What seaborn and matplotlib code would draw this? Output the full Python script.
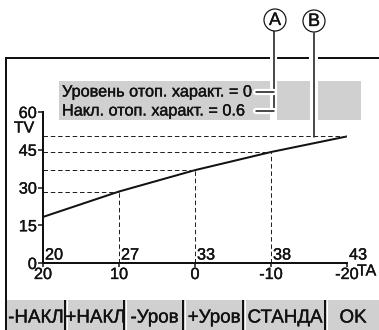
import matplotlib
matplotlib.use("Agg")
import matplotlib.pyplot as plt
import matplotlib.patheffects as pe
from matplotlib.patches import Circle, Rectangle
import numpy as np
import pandas as pd
import seaborn as sns

# Heating curve: outside temperature TA vs. flow temperature TV
ta_values = [20, 10, 0, -10, -20]
tv_values = [18.3, 28.4, 36.9, 44.1, 50.3]
point_labels = ["20", "27", "33", "38", "43"]

x_ticks = [20, 10, 0, -10, -20]
x_tick_labels = ["20", "10", "0", "-10", "-20"]
y_ticks = [0, 15, 30, 45, 60]
y_tick_labels = ["0", "15", "30", "45", "60"]

info_lines = ["Уровень отоп. характ. = 0", "Накл. отоп. характ. = 0.6"]
button_labels = ["-НАКЛ", "+НАКЛ", "-Уров", "+Уров", "СТАНДА", "OK"]

sns.set_theme(style="white")
plt.rcParams["font.family"] = ["Liberation Sans", "DejaVu Sans"]

W, H = 379, 330
fig = plt.figure(figsize=(W / 100, H / 100), dpi=100)
fig.patch.set_facecolor("white")

ink = "#111111"
gray = "#d0d0d0"
px = 0.72  # points per pixel
# slightly heavier glyphs, like a display font
heavy = [pe.withStroke(linewidth=0.25, foreground=ink)]

# Pixel-space layer for the display frame, info box, callouts and soft keys
bg = fig.add_axes([0, 0, 1, 1])
bg.set_xlim(0, W)
bg.set_ylim(H, 0)
bg.axis("off")

# Info box (split where the callout lines pass)
for x0, x1 in [(59, 270), (277, 310), (318, 361)]:
    bg.add_patch(Rectangle((x0, 81), x1 - x0, 39, facecolor=gray, edgecolor="none", zorder=1))
for i, line in enumerate(info_lines):
    bg.text(62, 92 + i * 19, line, fontsize=11.7, color=ink, ha="left", va="center",
            zorder=3, path_effects=heavy)

# Display frame
for x0, x1 in [(5, 270), (277, 309), (318, 379)]:
    bg.plot([x0, x1], [58, 58], color=ink, lw=2 * px, solid_capstyle="butt", zorder=2)
bg.plot([5.5, 5.5], [57, 330], color=ink, lw=2 * px, solid_capstyle="butt", zorder=2)

# Callouts A and B
halo = [pe.Stroke(linewidth=4.5, foreground="white"), pe.Normal()]
bg.plot([274, 274], [31, 111], color=ink, lw=1.5 * px, zorder=4, path_effects=halo)
bg.plot([256, 274], [92, 92], color=ink, lw=1.5 * px, zorder=4, path_effects=halo)
bg.plot([256, 274], [111, 111], color=ink, lw=1.5 * px, zorder=4, path_effects=halo)
bg.plot([314, 314], [33, 137], color=ink, lw=1.5 * px, zorder=4, path_effects=halo)
for cx, cy, letter in [(275, 20, "A"), (314, 21, "B")]:
    bg.add_patch(Circle((cx, cy), 11, facecolor="white", edgecolor=ink, lw=1.2 * px, zorder=5))
    bg.text(cx, cy + 0.5, letter, fontsize=13, color=ink, ha="center", va="center",
            zorder=6, path_effects=heavy)

# Soft key bar
bg.add_patch(Rectangle((5, 300), W - 5, 30, facecolor=gray, edgecolor="none", zorder=1))
edges = [5, 65, 124, 183, 243, 325, 379]
for xs in edges[1:-1]:
    bg.plot([xs, xs], [300, 330], color=ink, lw=2 * px, solid_capstyle="butt", zorder=2)
    bg.plot([xs + 2, xs + 2], [300, 330], color="white", lw=1 * px, solid_capstyle="butt", zorder=2)
for (a, b), lab in zip(zip(edges[:-1], edges[1:]), button_labels):
    bg.text((a + b) / 2 + 1, 318, lab, fontsize=13.5, color=ink, ha="center", va="center",
            zorder=3, path_effects=heavy)

# Axis labels
bg.text(24, 128, "TV", fontsize=11.5, color=ink, ha="center", va="center", path_effects=heavy)
bg.text(357, 271, "TA", fontsize=11.5, color=ink, ha="left", va="center", path_effects=heavy)

# Chart axes
ax = fig.add_axes([43 / W, (H - 263) / H, 304 / W, 151 / H])
ax.patch.set_alpha(0)
df = pd.DataFrame({"TA": ta_values, "TV": tv_values})
sns.lineplot(data=df, x="TA", y="TV", ax=ax, color=ink, lw=2 * px, sort=False)

dash = (0, (4.5, 2.8))
ax.vlines(ta_values[1:], 0, tv_values[1:], colors="#222222", lw=1 * px, linestyles=[dash])
ax.hlines(tv_values[1:], 20, ta_values[1:], colors="#222222", lw=1 * px, linestyles=[dash])

for x, lab in zip(ta_values, point_labels):
    ax.annotate(lab, xy=(x, 0), xytext=(2, 8), textcoords="offset pixels",
                fontsize=11.7, color=ink, ha="left", va="center", path_effects=heavy)

ax.set_xlim(20, -20)
ax.set_ylim(0, 60)
ax.set_xticks(x_ticks, x_tick_labels)
ax.set_yticks(y_ticks, y_tick_labels)
ax.set_xlabel("")
ax.set_ylabel("")
for side in ["top", "right"]:
    ax.spines[side].set_visible(False)
for side in ["left", "bottom"]:
    ax.spines[side].set_color(ink)
    ax.spines[side].set_linewidth(2 * px)
ax.tick_params(axis="both", direction="out", width=1.5 * px,
               color=ink, labelsize=11.7, labelcolor=ink, pad=0)
ax.tick_params(axis="x", bottom=True, length=4 * px)
ax.tick_params(axis="y", left=True, length=5.5 * px, pad=0.5)
for lbl in ax.get_xticklabels() + ax.get_yticklabels():
    lbl.set_path_effects(heavy)
ax.grid(False)

fig.savefig("out.png", dpi=100, facecolor="white")
